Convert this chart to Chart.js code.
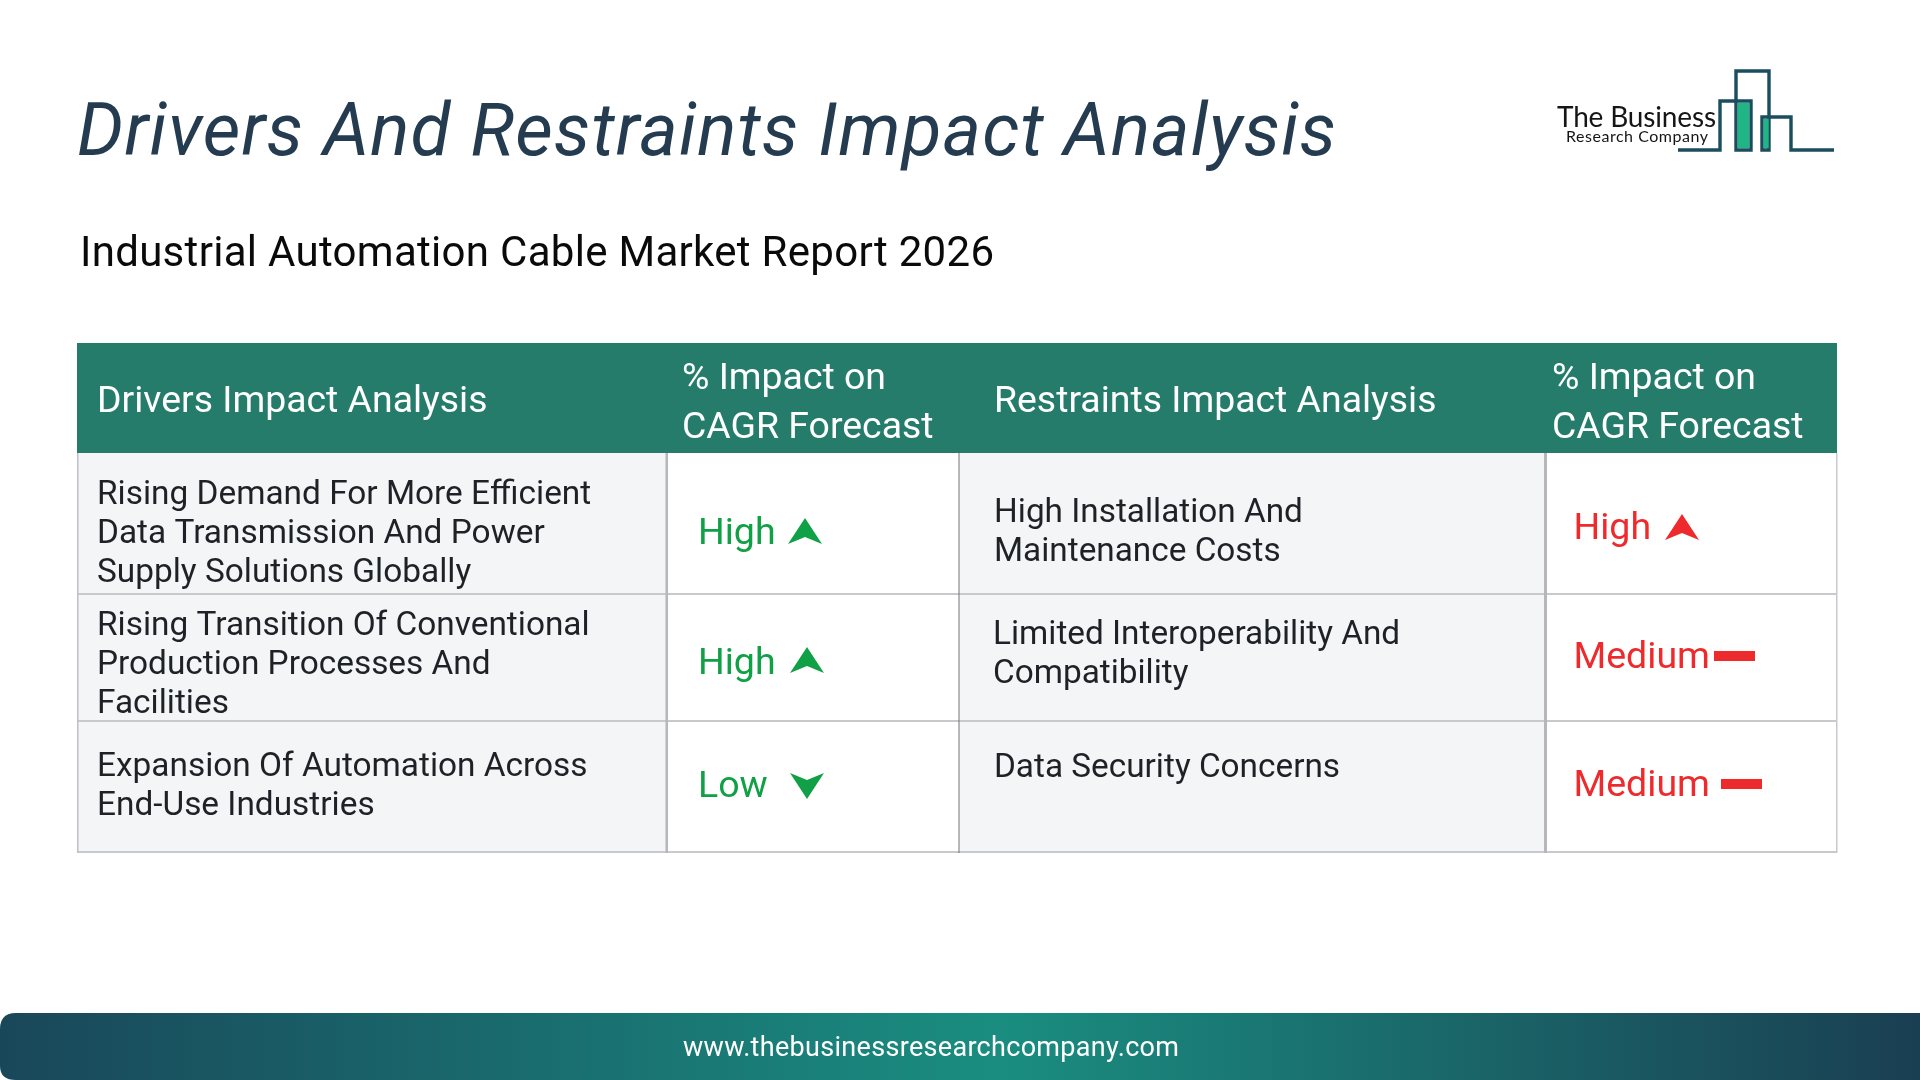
<!DOCTYPE html>
<html><head><meta charset="utf-8">
<script src="https://cdn.jsdelivr.net/npm/chart.js@4"></script>
<style>
html,body{margin:0;padding:0;background:#fff;width:1920px;height:1080px;overflow:hidden}
#wrap{position:relative;width:1920px;height:1080px}
canvas{position:absolute;left:0;top:0}
svg{position:absolute;left:0;top:0}
</style></head><body>
<div id="wrap"><canvas id="c" width="1920" height="1080"></canvas>
<svg width="1920" height="1080" viewBox="0 0 1920 1080">
<defs><linearGradient id="fg" x1="0" x2="1" y1="0" y2="0">
<stop offset="0" stop-color="#19475a"/><stop offset="0.52" stop-color="#1a8d80"/><stop offset="1" stop-color="#1a3f52"/></linearGradient></defs>
<text x="77" y="155" font-family="Roboto" font-style="italic" font-size="73" fill="#243b50" textLength="1259">Drivers And Restraints Impact Analysis</text>
<text x="80" y="266" font-family="Roboto" font-size="42" fill="#0a0a0a" textLength="914">Industrial Automation Cable Market Report 2026</text>
<g fill="none" stroke="#1a4d5d" stroke-width="3.4">
<path d="M1678 150H1720V101H1751V150H1736V71H1769V150H1762V117H1791V150H1834"/></g>
<rect x="1737.7" y="103" width="11.5" height="45" fill="#1fb584"/>
<rect x="1763.7" y="119" width="5" height="29" fill="#1fb584"/>
<text x="1557" y="127" font-family="Lato" font-weight="400" font-size="28" fill="#151515" textLength="159">The Business</text>
<text x="1566" y="142" font-family="Lato" font-weight="400" font-size="16" fill="#151515" textLength="142">Research Company</text>
<path d="M0 1080V1029Q0 1013 16 1013H1920V1080H16Q0 1080 0 1066Z" fill="url(#fg)"/>
<text x="683" y="1056" font-family="Roboto" font-size="27" fill="#fff" textLength="496">www.thebusinessresearchcompany.com</text>
</svg></div>
<script>
// ---- table content ----
const headers = [["Drivers Impact Analysis"],["% Impact on","CAGR Forecast"],["Restraints Impact Analysis"],["% Impact on","CAGR Forecast"]];
const driverLabels = [
  ["Rising Demand For More Efficient","Data Transmission And Power","Supply Solutions Globally"],
  ["Rising Transition Of Conventional","Production Processes And","Facilities"],
  ["Expansion Of Automation Across","End-Use Industries"]];
const driverImpact = ["High","High","Low"];
const restraintLabels = [
  ["High Installation And","Maintenance Costs"],
  ["Limited Interoperability And","Compatibility"],
  ["Data Security Concerns"]];
const restraintImpact = ["High","Medium","Medium"];

// ---- layout, in axis units ----
const colEdges = [77,667,959,1546,1836];
const rowEdges = [343,453,594,721,852];
const headBase = [[412],[389,438],[412],[389,438]];
const headX = [97,682,994,1552];
const driverX = 97, restraintX = [994,993,994];
const driverBase = [[504,543,582],[635,674,713],[776,815]];
const restraintBase = [[522,561],[644,683],[777]];
const driverImpactX = 698, restraintImpactX = 1574;
const driverImpactBase = [544,674,797];
const restraintImpactBase = [539,668,796];
const driverMark = [[805,531],[807,660],[807,786]];
const restraintMark = [[1682,527],[1734.5,656],[1741.5,784]];

const GREEN="#10a045", RED="#ee2a2c";
function mark(level,color){
  const c=document.createElement('canvas');
  const dash=level==="Medium";
  c.width=dash?41:34; c.height=dash?10:26;
  const x=c.getContext('2d'); x.fillStyle=color;
  if(dash){x.fillRect(0,0,41,10);return c;}
  x.beginPath();
  if(level==="High"){x.moveTo(17,0);x.lineTo(34,26);x.lineTo(17,19);x.lineTo(0,26);}
  else{x.moveTo(17,26);x.lineTo(34,0);x.lineTo(17,7);x.lineTo(0,0);}
  x.closePath();x.fill();return c;
}

const tablePlugin={id:'table',
 beforeDatasetsDraw(ch){
  const {ctx,scales:{x,y}}=ch, X=v=>x.getPixelForValue(v), Y=v=>y.getPixelForValue(v);
  const rect=(a,b,c,d,col)=>{ctx.fillStyle=col;ctx.fillRect(X(a),Y(b),X(c)-X(a),Y(d)-Y(b));};
  ctx.save();
  rect(colEdges[0],rowEdges[1],colEdges[1],rowEdges[4],"#f3f5f7");
  rect(colEdges[2],rowEdges[1],colEdges[3],rowEdges[4],"#f3f5f7");
  rect(colEdges[0],rowEdges[0],colEdges[4]+1,rowEdges[1],"#257c6b");
  // rules
  rowEdges.slice(2).forEach(r=>rect(colEdges[0],r-1,colEdges[4]+1,r+1,"#c8c9cd"));
  rect(colEdges[0],rowEdges[1],colEdges[0]+1.5,rowEdges[4]+1,"#bfc0c4");
  rect(colEdges[4],rowEdges[1],colEdges[4]+1.5,rowEdges[4]+1,"#c8c9cd");
  rect(colEdges[1]-1.5,rowEdges[1],colEdges[1]+1,rowEdges[4]+1,"#b6b7bb");
  rect(colEdges[2]-.5,rowEdges[1],colEdges[2]+.5,rowEdges[4]+1,"#75777b");
  rect(colEdges[3]-2,rowEdges[1],colEdges[3]+1,rowEdges[4]+1,"#b6b7bb");
  // text
  ctx.textBaseline='alphabetic';ctx.textAlign='left';
  const put=(s,a,b,col,size)=>{ctx.font=size+'px Roboto';ctx.fillStyle=col;ctx.fillText(s,X(a),Y(b));};
  headers.forEach((ls,i)=>ls.forEach((s,j)=>put(s,headX[i],headBase[i][j],"#ffffff",37.4)));
  driverLabels.forEach((ls,i)=>ls.forEach((s,j)=>put(s,driverX,driverBase[i][j],"#1e2227",33.4)));
  restraintLabels.forEach((ls,i)=>ls.forEach((s,j)=>put(s,restraintX[i],restraintBase[i][j],"#1e2227",33.35)));
  driverImpact.forEach((s,i)=>put(s,driverImpactX,driverImpactBase[i],GREEN,37.5));
  restraintImpact.forEach((s,i)=>put(s,restraintImpactX-.5,restraintImpactBase[i],RED,37.5));
  ctx.restore();
 }};

new Chart(document.getElementById('c'),{
 type:'scatter',
 data:{datasets:[
  {label:'Drivers impact',data:driverMark.map(p=>({x:p[0],y:p[1]})),pointStyle:driverImpact.map(l=>mark(l,GREEN))},
  {label:'Restraints impact',data:restraintMark.map(p=>({x:p[0],y:p[1]})),pointStyle:restraintImpact.map(l=>mark(l,RED))}
 ]},
 options:{responsive:false,animation:false,devicePixelRatio:1,
  layout:{padding:0,autoPadding:false},
  plugins:{legend:{display:false},tooltip:{enabled:false},title:{display:false}},
  scales:{x:{type:'linear',min:0,max:1920,display:false},y:{type:'linear',min:0,max:1080,reverse:true,display:false}}
 },
 plugins:[tablePlugin]
});
</script></body></html>
